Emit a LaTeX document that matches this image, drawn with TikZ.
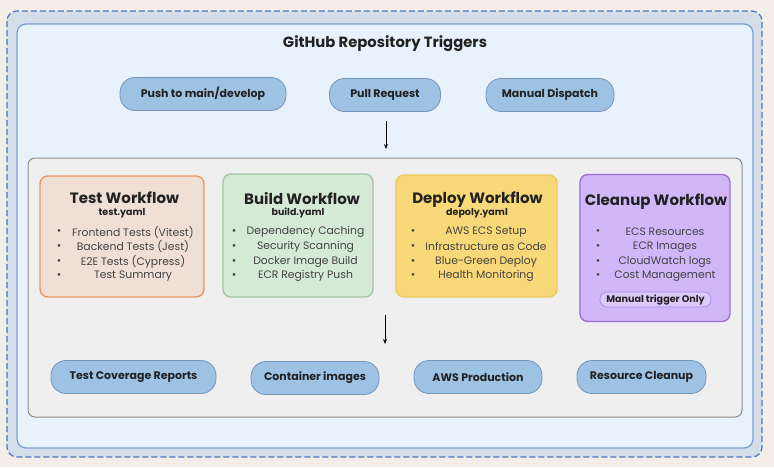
\documentclass[tikz,border=0pt]{standalone}
\usepackage{fontspec}
\setmainfont{Poppins}
\usetikzlibrary{arrows.meta}
\definecolor{paper}{HTML}{F4EDE8}
\definecolor{outerfill}{HTML}{D3DEE9}
\definecolor{outerline}{HTML}{4A78BE}
\definecolor{innerfill}{HTML}{E8F2FC}
\definecolor{innerline}{HTML}{7C9FD3}
\definecolor{grayfill}{HTML}{EFEFEF}
\definecolor{grayline}{HTML}{8C8C8C}
\definecolor{pillfill}{HTML}{9DC2E3}
\definecolor{pillline}{HTML}{7496BC}
\definecolor{testfill}{HTML}{F0DFD4}
\definecolor{testline}{HTML}{EA9668}
\definecolor{buildfill}{HTML}{D5EAD5}
\definecolor{buildline}{HTML}{9FC7A0}
\definecolor{deployfill}{HTML}{F8D878}
\definecolor{deployline}{HTML}{EFC860}
\definecolor{cleanfill}{HTML}{D1B6F8}
\definecolor{cleanline}{HTML}{9D6ED6}
\definecolor{manfill}{HTML}{DDC9FA}
\definecolor{manline}{HTML}{A98BDA}
\definecolor{ink}{HTML}{222222}
\begin{document}
\begin{tikzpicture}[x=1pt,y=-1pt,
  pill/.style={draw=pillline,fill=pillfill,rounded corners=15pt,line width=0.8pt,minimum height=33pt,text=ink,font=\fontsize{11}{12}\selectfont\bfseries},
  wfbox/.style={rounded corners=8pt,line width=1.4pt},
  wftitle/.style={text=ink,inner sep=0pt,text height=11pt,text depth=0pt,font=\fontsize{15}{17}\selectfont\bfseries},
  wfyaml/.style={text=ink,inner sep=0pt,text height=7pt,text depth=2pt,font=\fontsize{9.5}{11}\selectfont\bfseries},
  wfitem/.style={text=ink!85,font=\fontsize{10.8}{12}\selectfont},
  flow/.style={-{Stealth[length=5pt,width=4pt]},line width=1pt,black}]
\useasboundingbox[fill=paper] (0,0) rectangle (774,467);
% frames
\draw[outerline,fill=outerfill,line width=1.2pt,dash pattern=on 6pt off 3pt,rounded corners=10pt] (7,11) rectangle (762,457);
\draw[innerline,fill=innerfill,line width=1.2pt,rounded corners=9pt] (17,24) rectangle (753,448);
\node[text=ink,font=\fontsize{14.8}{17}\selectfont\bfseries] (title) at (385,44) {GitHub Repository Triggers};
% triggers
\node[pill,minimum width=166pt] (push) at (203,94) {Push to main/develop};
\node[pill,minimum width=111pt] (pr) at (385,95) {Pull Request};
\node[pill,minimum width=128pt] (dispatch) at (550,95) {Manual Dispatch};
\coordinate (a1) at (386,121);
\coordinate (b1) at (386,149);
\draw[flow] (a1) -- (b1);
\draw[grayline,fill=grayfill,line width=1pt,rounded corners=7pt] (28,158) rectangle (742,417);
% workflows
\node[wfbox,draw=testline,fill=testfill,minimum width=164pt,minimum height=121pt] (test) at (122,236.5) {};
\node[wfbox,draw=buildline,fill=buildfill,minimum width=150pt,minimum height=123pt] (build) at (298,235.5) {};
\node[wfbox,draw=deployline,fill=deployfill,minimum width=161pt,minimum height=122pt] (deploy) at (476.5,236) {};
\node[wfbox,draw=cleanline,fill=cleanfill,minimum width=150pt,minimum height=147pt] (cleanup) at (655,248) {};
\node[wftitle] (testt) at (124.5,197.5) {Test Workflow};
\node[wfyaml] (testy) at (122,212.5) {test.yaml};
\node[wftitle] (buildt) at (302,198.5) {Build Workflow};
\node[wfyaml] (buildy) at (298,212.5) {build.yaml};
\node[wftitle] (deployt) at (477.5,198) {Deploy Workflow};
\node[wfyaml] (deployy) at (477,212.5) {depoly.yaml};
\node[wftitle] (cleant) at (656,199.5) {Cleanup Workflow};
\foreach \txt [count=\i] in {Frontend Tests (Vitest),Backend Tests (Jest),E2E Tests (Cypress),Test Summary}
  {\node[wfitem] at (59,217.5+14.7*\i) {•}; \node[wfitem] at (133,217.5+14.7*\i) {\txt};}
\foreach \txt [count=\i] in {Dependency Caching,Security Scanning,Docker Image Build,ECR Registry Push}
  {\node[wfitem] at (234,217.5+14.7*\i) {•}; \node[wfitem] at (305.5,217.5+14.7*\i) {\txt};}
\foreach \txt [count=\i] in {AWS ECS Setup,Infrastructure as Code,Blue-Green Deploy,Health Monitoring}
  {\node[wfitem] at (413,217.5+14.7*\i) {•}; \node[wfitem] at (486,217.5+14.7*\i) {\txt};}
\foreach \txt [count=\i] in {ECS Resources,ECR Images,CloudWatch logs,Cost Management}
  {\node[wfitem] at (598,217.5+14.7*\i) {•}; \node[wfitem] at (665,217.5+14.7*\i) {\txt};}
\node[draw=manline,fill=manfill,rounded corners=7pt,line width=0.7pt,minimum width=111pt,minimum height=15pt,inner sep=1pt,text=ink,font=\fontsize{9.6}{10}\selectfont\bfseries] (manual) at (655.5,299.5) {Manual trigger Only};
\coordinate (a2) at (385,315);
\coordinate (b2) at (385,344);
\draw[flow] (a2) -- (b2);
% outputs
\node[pill,minimum width=165pt] (coverage) at (133.5,377) {Test Coverage Reports};
\node[pill,minimum width=128pt] (images) at (315,378) {Container images};
\node[pill,minimum width=128pt] (prod) at (478,377) {AWS Production};
\node[pill,minimum width=129pt] (clean) at (641.5,377) {Resource Cleanup};
\end{tikzpicture}
\end{document}
